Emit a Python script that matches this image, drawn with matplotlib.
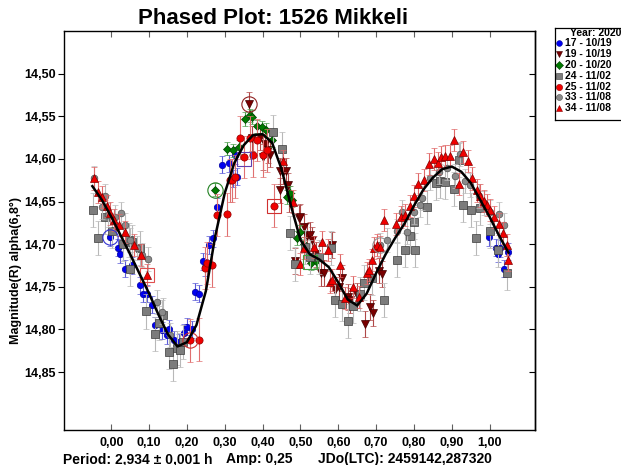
import matplotlib
matplotlib.use("Agg")
import matplotlib.pyplot as plt
from matplotlib.lines import Line2D

plt.rcParams['font.family'] = ['Liberation Sans', 'DejaVu Sans']
plt.rcParams['font.weight'] = 'bold'

# ---- session data: phase, reduced magnitude ----
s17_phase = [-0.003, 0.019, 0.022, 0.037, 0.055, 0.077, 0.085, 0.094, 0.108, 0.116, 0.125, 0.134,
             0.147, 0.152, 0.165, 0.178, 0.191, 0.200, 0.213, 0.222, 0.231, 0.242, 0.247, 0.257,
             0.270, 0.279, 0.292, 0.310, 0.323, 0.328, 0.332, 0.999, 1.018, 1.021, 1.028, 1.039, 1.049]
s17_mag = [14.692, 14.704, 14.712, 14.729, 14.725, 14.748, 14.758, 14.758, 14.771, 14.795, 14.792, 14.801,
           14.807, 14.799, 14.812, 14.815, 14.804, 14.797, 14.800, 14.756, 14.758, 14.720, 14.727, 14.701,
           14.693, 14.656, 14.607, 14.605, 14.623, 14.596, 14.621, 14.692, 14.704, 14.711, 14.705, 14.729, 14.709]

s19_phase = [0.363, 0.372, 0.394, 0.401, 0.407, 0.413, 0.420, 0.447, 0.447, 0.455, 0.463, 0.466,
             0.469, 0.486, 0.495, 0.498, 0.510, 0.517, 0.526, 0.530, 0.540, 0.555, 0.563, 0.583,
             0.592, 0.601, 0.610, 0.627, 0.632, 0.650, 0.671, 0.683, 0.692, 0.707, 0.716]
s19_mag = [14.536, 14.576, 14.575, 14.598, 14.583, 14.590, 14.595, 14.614, 14.637, 14.615, 14.614, 14.631,
           14.647, 14.720, 14.669, 14.668, 14.680, 14.690, 14.689, 14.695, 14.712, 14.734, 14.734, 14.701,
           14.754, 14.750, 14.740, 14.762, 14.766, 14.760, 14.794, 14.774, 14.781, 14.731, 14.735]

s20_phase = [0.275, 0.306, 0.323, 0.337, 0.354, 0.367, 0.372, 0.385, 0.398, 0.410, 0.425, 0.464,
             0.472, 0.477, 0.490, 0.500, 0.510, 0.528, 0.540]
s20_mag = [14.636, 14.588, 14.590, 14.586, 14.553, 14.549, 14.551, 14.562, 14.563, 14.566, 14.578, 14.645,
           14.640, 14.648, 14.693, 14.686, 14.700, 14.722, 14.720]

s24_phase = [-0.048, -0.036, -0.016, 0.002, 0.030, 0.046, 0.050, 0.055, 0.077, 0.093, 0.115, 0.125,
             0.138, 0.152, 0.162, 0.174, 0.182, 0.190, 0.427, 0.451, 0.473, 0.486, 0.513, 0.525,
             0.548, 0.581, 0.592, 0.610, 0.627, 0.640, 0.658, 0.669, 0.690, 0.720, 0.755, 0.777,
             0.790, 0.799, 0.804, 0.835, 0.859, 0.870, 0.883, 0.905, 0.918, 0.930, 0.952, 0.965,
             0.975, 1.000, 1.021, 1.046]
s24_mag = [14.660, 14.693, 14.668, 14.684, 14.700, 14.695, 14.729, 14.697, 14.705, 14.779, 14.805, 14.793,
           14.783, 14.827, 14.841, 14.822, 14.824, 14.815, 14.568, 14.588, 14.687, 14.723, 14.703, 14.715,
           14.715, 14.705, 14.766, 14.770, 14.790, 14.772, 14.758, 14.745, 14.740, 14.766, 14.719, 14.707,
           14.690, 14.674, 14.707, 14.656, 14.628, 14.626, 14.627, 14.635, 14.601, 14.654, 14.660, 14.693,
           14.658, 14.684, 14.707, 14.734]

s25_phase = [0.209, 0.233, 0.247, 0.253, 0.266, 0.279, 0.306, 0.315, 0.319, 0.328, 0.339, 0.352,
             0.367, 0.374, 0.384, 0.401, 0.412, 0.431]
s25_mag = [14.813, 14.812, 14.728, 14.722, 14.725, 14.666, 14.665, 14.625, 14.625, 14.621, 14.575, 14.598,
           14.575, 14.596, 14.578, 14.596, 14.590, 14.655]

s33_phase = [-0.047, -0.025, -0.016, -0.009, 0.010, 0.026, 0.037, 0.050, 0.068, 0.081, 0.096, 0.121,
             0.135, 0.156, 0.711, 0.730, 0.755, 0.768, 0.782, 0.799, 0.817, 0.821, 0.843, 0.865,
             0.887, 0.909, 0.923, 0.936, 0.949, 0.971, 0.985, 1.002, 1.024, 1.039]
s33_mag = [14.622, 14.656, 14.643, 14.666, 14.668, 14.664, 14.677, 14.695, 14.705, 14.713, 14.717, 14.768,
           14.780, 14.807, 14.701, 14.695, 14.684, 14.662, 14.686, 14.662, 14.654, 14.646, 14.623, 14.615,
           14.611, 14.620, 14.594, 14.626, 14.631, 14.644, 14.652, 14.662, 14.665, 14.677]

s34_phase = [-0.047, -0.036, -0.025, -0.011, -0.003, 0.008, 0.020, 0.035, 0.059, 0.078, 0.094, 0.454,
             0.480, 0.498, 0.510, 0.535, 0.557, 0.572, 0.579, 0.583, 0.604, 0.618, 0.640, 0.655,
             0.676, 0.680, 0.689, 0.695, 0.702, 0.709, 0.720, 0.753, 0.766, 0.777, 0.790, 0.799,
             0.810, 0.826, 0.839, 0.852, 0.863, 0.871, 0.883, 0.896, 0.907, 0.918, 0.929, 0.942,
             0.954, 0.966, 0.975, 0.984, 0.993, 1.002, 1.012, 1.024, 1.035, 1.046, 1.048]
s34_mag = [14.623, 14.639, 14.645, 14.655, 14.664, 14.672, 14.678, 14.686, 14.701, 14.713, 14.736, 14.602,
           14.650, 14.723, 14.705, 14.703, 14.697, 14.707, 14.744, 14.742, 14.725, 14.763, 14.750, 14.762,
           14.734, 14.730, 14.719, 14.705, 14.701, 14.703, 14.672, 14.676, 14.668, 14.666, 14.655, 14.644,
           14.629, 14.625, 14.606, 14.600, 14.605, 14.598, 14.597, 14.597, 14.578, 14.629, 14.592, 14.602,
           14.623, 14.637, 14.643, 14.649, 14.654, 14.660, 14.668, 14.676, 14.687, 14.701, 14.719]

# typical photometric error per session (mag)
s17_err, s19_err, s20_err, s24_err, s25_err, s33_err, s34_err = 0.010, 0.015, 0.008, 0.020, 0.025, 0.014, 0.013

# Fourier fit sampled along the phase
fit_phase = [-0.05, -0.025, 0.0, 0.025, 0.05, 0.075, 0.10, 0.125, 0.15, 0.175, 0.20, 0.225, 0.25,
             0.275, 0.30, 0.325, 0.35, 0.375, 0.40, 0.425, 0.45, 0.475, 0.50, 0.525, 0.55, 0.575,
             0.60, 0.625, 0.65, 0.675, 0.70, 0.725, 0.75, 0.775, 0.80, 0.825, 0.85, 0.875, 0.90,
             0.925, 0.95, 0.975, 1.00, 1.025, 1.05]
fit_mag = [14.632, 14.648, 14.668, 14.690, 14.712, 14.735, 14.758, 14.783, 14.806, 14.820, 14.815,
           14.795, 14.755, 14.690, 14.640, 14.605, 14.584, 14.572, 14.571, 14.581, 14.612, 14.655,
           14.695, 14.712, 14.718, 14.727, 14.745, 14.765, 14.772, 14.758, 14.734, 14.712, 14.693,
           14.676, 14.655, 14.636, 14.622, 14.612, 14.609, 14.615, 14.628, 14.648, 14.668, 14.690, 14.710]

# highlighted reference points (phase, mag, ring shape, colour)
ring_phase = [-0.003, 0.275, 0.363, 0.431, 0.350, 0.209, 0.094, 0.711, 0.526]
ring_mag = [14.692, 14.636, 14.536, 14.655, 14.600, 14.813, 14.736, 14.701, 14.721]
ring_shape = ['o', 'o', 'o', 's', 's', 'o', 's', 'o', 's']
ring_color = ['#3030d0', '#208020', '#902020', '#d03030', '#6040b0', '#d03030', '#e05050', '#909090', '#40a040']

session_labels = ['17 - 10/19', '19 - 10/19', '20 - 10/20', '24 - 11/02', '25 - 11/02', '33 - 11/08', '34 - 11/08']

xtick_vals = [0.0, 0.1, 0.2, 0.3, 0.4, 0.5, 0.6, 0.7, 0.8, 0.9, 1.0]
ytick_vals = [14.50, 14.55, 14.60, 14.65, 14.70, 14.75, 14.80, 14.85]

sessions = [
    (s17_phase, s17_mag, s17_err, 'o', '#0000f0', '#0000a0', '#5a5ad8', 4.6),
    (s19_phase, s19_mag, s19_err, 'v', '#7a0000', '#400000', '#b04848', 6.0),
    (s20_phase, s20_mag, s20_err, 'D', '#007a00', '#004000', '#50a050', 4.0),
    (s24_phase, s24_mag, s24_err, 's', '#7c7c7c', '#3a3a3a', '#b8b8b8', 6.2),
    (s25_phase, s25_mag, s25_err, 'o', '#f00000', '#900000', '#e07070', 5.2),
    (s33_phase, s33_mag, s33_err, 'o', '#8a8a8a', '#505050', '#bcbcbc', 4.8),
    (s34_phase, s34_mag, s34_err, '^', '#f00000', '#800000', '#e06868', 5.4),
]

fig = plt.figure(figsize=(6.21, 4.65), dpi=100)
ax = fig.add_axes([64 / 621, 1 - 430 / 465, 471 / 621, 399 / 465])

for i, (ph, mg, er, mk, fc, ec, erc, ms) in enumerate(sessions):
    ax.errorbar(ph, mg, yerr=er, fmt=mk, ms=ms, mfc=fc, mec=ec, mew=0.5,
                ecolor=erc, elinewidth=0.8, capsize=2, capthick=0.8, zorder=2 + i)

for p, m, s, c in zip(ring_phase, ring_mag, ring_shape, ring_color):
    ax.plot(p, m, marker=s, ms=11 if s == 'o' else 10, mfc='none', mec=c, mew=0.8, zorder=10)

ax.plot(fit_phase, fit_mag, color='black', lw=1.8, zorder=12)

ax.set_xlim(-0.125, 1.12)
ax.set_ylim(14.918, 14.450)
ax.set_xticks(xtick_vals)
ax.set_xticklabels([f"{v:.2f}".replace('.', ',') for v in xtick_vals])
ax.set_yticks(ytick_vals)
ax.set_yticklabels([f"{v:.2f}".replace('.', ',') for v in ytick_vals])
ax.tick_params(axis='x', direction='in', top=True, bottom=True, length=4, width=0.8,
               labelsize=9, pad=5, colors='#606060', labelcolor='black')
ax.tick_params(axis='y', direction='out', left=True, right=False, length=4, width=0.8,
               labelsize=9, pad=2)
for lab in ax.get_xticklabels() + ax.get_yticklabels():
    lab.set_fontweight('bold')
sec = ax.secondary_yaxis('right')
sec.set_yticks(ytick_vals)
sec.tick_params(direction='in', length=4, width=0.8, labelright=False)
for sp in list(ax.spines.values()) + list(sec.spines.values()):
    sp.set_linewidth(1.0)

fig.text(273 / 621, 1 - 19 / 465, 'Phased Plot: 1526 Mikkeli', fontsize=16, fontweight='bold',
         ha='center', va='center')
fig.text(16 / 621, 1 - 270 / 465, 'Magnitude(R) alpha(6,8°)', fontsize=9, fontweight='bold',
         rotation=90, ha='center', va='center')
fig.text(63 / 621, 1 - 459 / 465, 'Period: 2,934 ± 0,001 h', fontsize=10, fontweight='bold',
         ha='left', va='center')
fig.text(226 / 621, 1 - 459 / 465, 'Amp: 0,25', fontsize=10, fontweight='bold', ha='left', va='center')
fig.text(318 / 621, 1 - 459 / 465, 'JDo(LTC): 2459142,287320', fontsize=10, fontweight='bold',
         ha='left', va='center')

# legend panel
lax = fig.add_axes([555 / 621, 1 - 120 / 465, 70 / 621, 92 / 465])
lax.set_xlim(0, 70)
lax.set_ylim(120, 28)
lax.set_xticks([])
lax.set_yticks([])
for sp in lax.spines.values():
    sp.set_linewidth(0.9)
lax.text(15, 33, 'Year: 2020', fontsize=7.5, fontweight='bold', ha='left', va='center')
row_y = [43.5, 54.3, 65.0, 75.8, 86.6, 97.4, 108.2]
for (ph, mg, er, mk, fc, ec, erc, ms), lbl, ry in zip(sessions, session_labels, row_y):
    lax.plot(3.5, ry, marker=mk, ms=min(ms, 5) * 0.9, mfc=fc, mec=ec, mew=0.4, clip_on=False)
    lax.text(10, ry, lbl, fontsize=7.5, fontweight='bold', ha='left', va='center')

fig.savefig('out.png', dpi=100)
